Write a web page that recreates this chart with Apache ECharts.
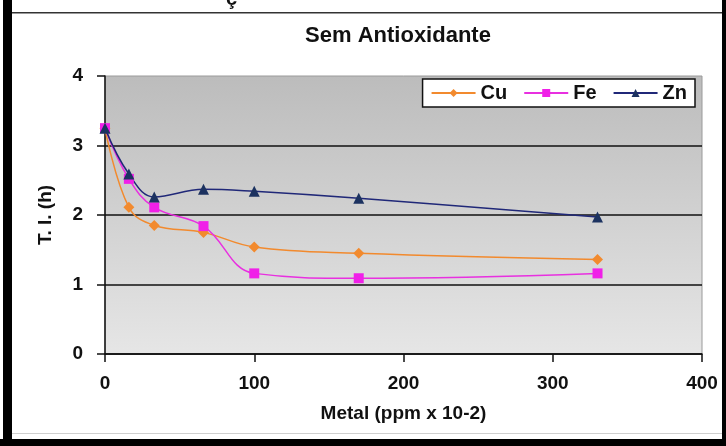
<!DOCTYPE html>
<html>
<head>
<meta charset="utf-8">
<script src="https://cdn.jsdelivr.net/npm/echarts@6/dist/echarts.min.js"></script>
<style>
  html, body { margin: 0; padding: 0; background: #fff; }
  #chart-container { width: 726px; height: 446px; }
</style>
</head>
<body>
<div id="chart-container"></div>
<script>
// dados
var metal = [0, 16, 33, 66, 100, 170, 330];
var cuData = [3.25, 2.11, 1.85, 1.75, 1.54, 1.45, 1.36];
var feData = [3.25, 2.52, 2.11, 1.84, 1.16, 1.09, 1.16];
var znData = [3.25, 2.59, 2.26, 2.37, 2.34, 2.24, 1.97];
var seriesNames = ['Cu', 'Fe', 'Zn'];

function pares(ys) {
    return metal.map(function (x, i) { return [x, ys[i]]; });
}

var chart = echarts.init(document.getElementById('chart-container'));

var fonte = 'Arial, "Liberation Sans", sans-serif';

var option = {
    animation: false,
    backgroundColor: '#fff',
    title: { // título
        text: 'Sem Antioxidante',
        left: 393,
        textAlign: 'center',
        top: 20,
        textStyle: { fontFamily: fonte, fontSize: 22, fontWeight: 'bold', color: '#111' }
    },
    grid: {
        left: 105,
        right: 24,
        top: 76,
        bottom: 92,
        show: true,
        backgroundColor: new echarts.graphic.LinearGradient(0, 0, 0, 1, [
            { offset: 0, color: '#bcbcbc' },
            { offset: 1, color: '#e6e6e6' }
        ]),
        borderColor: '#9a9a9a',
        borderWidth: 1
    },
    legend: {
        data: seriesNames,
        right: 31,
        top: 79,
        backgroundColor: '#fff',
        borderColor: '#111',
        borderWidth: 1.5,
        padding: [4, 8],
        itemWidth: 44,
        itemHeight: 10,
        itemGap: 16,
        textStyle: { fontFamily: fonte, fontSize: 20, fontWeight: 'bold', color: '#111' }
    },
    xAxis: {
        type: 'value',
        min: 0,
        max: 400,
        interval: 100,
        name: 'Metal (ppm x 10-2)',
        nameLocation: 'middle',
        nameGap: 50,
        nameTextStyle: { fontFamily: fonte, fontSize: 19, fontWeight: 'bold', color: '#111' },
        axisLine: { lineStyle: { color: '#111', width: 1.5 } },
        axisTick: { show: true, length: 8, lineStyle: { color: '#111', width: 1.5 } },
        axisLabel: { margin: 20, fontFamily: fonte, fontSize: 19, fontWeight: 'bold', color: '#111' },
        splitLine: { show: false }
    },
    yAxis: {
        type: 'value',
        min: 0,
        max: 4,
        interval: 1,
        name: 'T. I. (h)',
        nameLocation: 'middle',
        nameGap: 50,
        nameTextStyle: { fontFamily: fonte, fontSize: 19, fontWeight: 'bold', color: '#111' },
        axisLine: { show: true, lineStyle: { color: '#111', width: 1.5 } },
        axisTick: { show: true, length: 8, lineStyle: { color: '#111', width: 1.5 } },
        axisLabel: { margin: 22, fontFamily: fonte, fontSize: 19, fontWeight: 'bold', color: '#111' },
        splitLine: { show: true, showMaxLine: false, lineStyle: { color: '#111', width: 1.5 } }
    },
    series: [{
            name: 'Cu',
            type: 'line',
            smooth: 0.4,
            data: pares(cuData),
            symbol: 'diamond',
            symbolSize: 11,
            itemStyle: { color: '#f28a2e' },
            lineStyle: { color: '#f28a2e', width: 1.5 }
        },
        {
            name: 'Fe',
            type: 'line',
            smooth: 0.4,
            data: pares(feData),
            symbol: 'rect',
            symbolSize: 10,
            itemStyle: { color: '#f020e8' },
            lineStyle: { color: '#e830e0', width: 1.5 }
        },
        {
            name: 'Zn',
            type: 'line',
            smooth: 0.4,
            data: pares(znData),
            symbol: 'triangle',
            symbolSize: 11,
            itemStyle: { color: '#1c3260' },
            lineStyle: { color: '#202878', width: 1.5 }
        }
    ],
    graphic: [ // moldura da imagem
        { type: 'rect', shape: { x: 3, y: 0, width: 9, height: 446 }, style: { fill: '#000' }, silent: true },
        { type: 'rect', shape: { x: 722, y: 0, width: 4, height: 446 }, style: { fill: '#000' }, silent: true },
        { type: 'rect', shape: { x: 0, y: 439, width: 726, height: 7 }, style: { fill: '#000' }, silent: true },
        { type: 'rect', shape: { x: 12, y: 12, width: 710, height: 1.6 }, style: { fill: '#333' }, silent: true },
        { type: 'rect', shape: { x: 12, y: 433, width: 710, height: 1 }, style: { fill: '#cfcfcf' }, silent: true },
        { type: 'text', left: 226, top: -11, style: { text: 'ç', fontFamily: fonte, fontSize: 20, fontWeight: 'bold', fill: '#111' }, silent: true }
    ]
};

chart.setOption(option);
</script>
</body>
</html>
